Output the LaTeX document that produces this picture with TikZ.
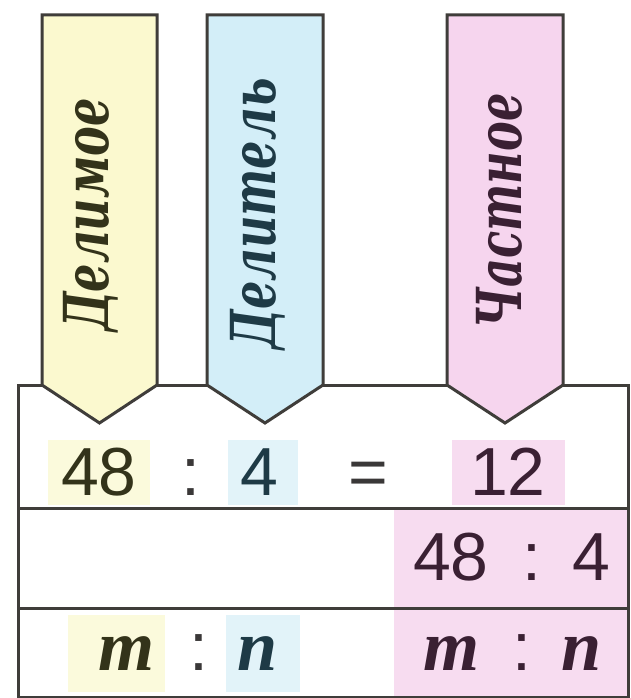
\documentclass[tikz,border=0pt]{standalone}
\usepackage{graphicx}
\usepackage{fontspec}
\setmainfont{Liberation Sans}
\newfontfamily\wordfont{DejaVu Serif}
\newfontfamily\letterfont{Liberation Serif}
\usetikzlibrary{calc}

\definecolor{edge}{HTML}{3F3D3A}
\definecolor{yel}{HTML}{FBF9CF}
\definecolor{blu}{HTML}{D3EEF8}
\definecolor{pnk}{HTML}{F6D5EE}
\definecolor{yelhi}{HTML}{FBFADC}
\definecolor{bluhi}{HTML}{E2F3F9}
\definecolor{pnkhi}{HTML}{F7DCF0}
\definecolor{olv}{HTML}{33331A}
\definecolor{tea}{HTML}{1E3A46}
\definecolor{plm}{HTML}{3A2033}
\definecolor{ink}{HTML}{3A3838}

\newcommand{\tagword}[1]{\scalebox{0.72}[1]{#1}}

\begin{document}
\begin{tikzpicture}[
  x=1pt,y=-1pt,
  tag/.style={draw=edge,line width=3pt,line join=miter},
  rule/.style={draw=edge,line width=3pt},
  num/.style={anchor=base,inner sep=0pt,font=\fontsize{68}{68}\selectfont},
  var/.style={anchor=base,inner sep=0pt,font=\letterfont\bfseries\itshape\fontsize{72}{72}\selectfont},
  word/.style={rotate=90,inner sep=0pt,font=\wordfont\bfseries\itshape\fontsize{62}{62}\selectfont}
]
\useasboundingbox[fill=white] (0,0) rectangle (631,698);

\fill[yelhi] (48,440) rectangle (150,505);
\fill[bluhi] (228,440) rectangle (298,505);
\fill[pnkhi] (452,440) rectangle (565,505);
\fill[pnkhi] (394,508) rectangle (628,697);
\fill[yelhi] (68,615) rectangle (165,692);
\fill[bluhi] (226,615) rectangle (300,692);

\draw[rule] (18,385) rectangle (628,697);
\draw[rule] (18,508) -- (628,508);
\draw[rule] (18,608) -- (628,608);

\foreach \l/\r/\c in {42/157/yel,207/323/blu,447/563/pnk}
  \filldraw[tag,fill=\c] (\l,15) -- (\r,15) -- (\r,385) -- ({(\l+\r)/2},423) -- (\l,385) -- cycle;

\node[word,text=olv] (dividend) at (91,215) {\tagword{Делимое}};
\node[word,text=tea] (divisor) at (258,214) {\tagword{Делитель}};
\node[word,text=plm] (quotient) at (499,211) {\tagword{Частное}};

\node[num,text=olv] (a1) at (99,495) {48};
\node[num,text=ink] (c1) at (191,495) {:};
\node[num,text=tea] (b1) at (259,495) {4};
\node[num,text=ink] (e1) at (368,495) {=};
\node[num,text=plm] (q1) at (508,495) {12};

\node[num,text=plm] (a2) at (451,580) {48};
\node[num,text=plm] (c2) at (532,580) {:};
\node[num,text=plm] (b2) at (591,580) {4};

\node[var,text=olv] (m3) at (127,670) {m};
\node[num,text=ink] (c3) at (199,670) {:};
\node[var,text=tea] (n3) at (258,670) {n};
\node[var,text=plm] (m4) at (451,670) {m};
\node[num,text=plm] (c4) at (522,670) {:};
\node[var,text=plm] (n4) at (582,670) {n};
\end{tikzpicture}
\end{document}
